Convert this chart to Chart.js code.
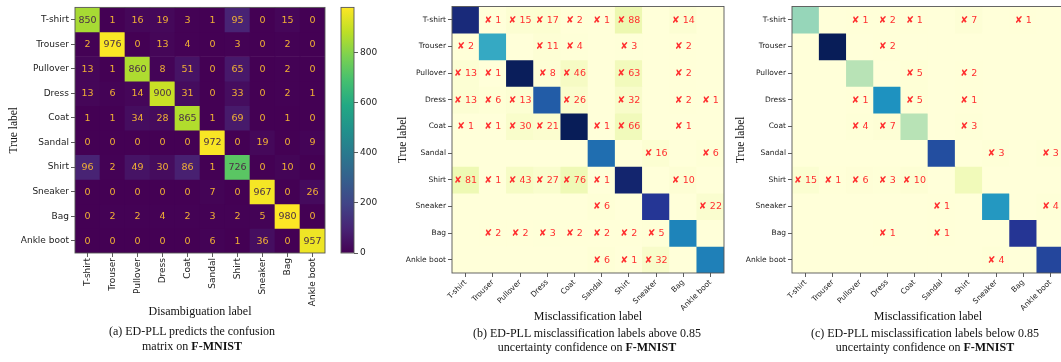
<!DOCTYPE html>
<html>
<head>
<meta charset="utf-8">
<script src="https://cdn.jsdelivr.net/npm/chart.js@4.4.1/dist/chart.umd.min.js"></script>
<style>
  html, body { margin: 0; padding: 0; background: #fff; overflow: hidden; }
  body { width: 1061px; height: 362px; position: relative; }
  canvas { position: absolute; top: 0; }
  .cap { position: absolute; font-family: "Liberation Serif", "Times New Roman", serif; font-size: 12px; color: #111; text-align: center; white-space: nowrap; }
</style>
</head>
<body>
<canvas id="cmA" width="330" height="362" style="left:0"></canvas>
<canvas id="cbar" width="60" height="362" style="left:330px"></canvas>
<canvas id="cmB" width="345" height="362" style="left:380px"></canvas>
<canvas id="cmC" width="345" height="362" style="left:720px"></canvas>
<div class="cap" style="left:42px;width:300px;top:324px;line-height:15px">(a) ED-PLL predicts the confusion<br>matrix on <b>F-MNIST</b></div>
<div class="cap" style="left:437px;width:300px;top:326px;line-height:14px">(b) ED-PLL misclassification labels above 0.85<br>uncertainty confidence on <b>F-MNIST</b></div>
<div class="cap" style="left:775px;width:300px;top:326px;line-height:14px">(c) ED-PLL misclassification labels below 0.85<br>uncertainty confidence on <b>F-MNIST</b></div>
<script>
const classNames = ['T-shirt', 'Trouser', 'Pullover', 'Dress', 'Coat', 'Sandal', 'Shirt', 'Sneaker', 'Bag', 'Ankle boot'];

// (a) confusion matrix, rows = true label, cols = disambiguation label
const confusionA = [
    [850, 1, 16, 19, 3, 1, 95, 0, 15, 0],
    [2, 976, 0, 13, 4, 0, 3, 0, 2, 0],
    [13, 1, 860, 8, 51, 0, 65, 0, 2, 0],
    [13, 6, 14, 900, 31, 0, 33, 0, 2, 1],
    [1, 1, 34, 28, 865, 1, 69, 0, 1, 0],
    [0, 0, 0, 0, 0, 972, 0, 19, 0, 9],
    [96, 2, 49, 30, 86, 1, 726, 0, 10, 0],
    [0, 0, 0, 0, 0, 7, 0, 967, 0, 26],
    [0, 2, 2, 4, 2, 3, 2, 5, 980, 0],
    [0, 0, 0, 0, 0, 6, 1, 36, 0, 957]
];

// (b) misclassifications above 0.85 (diagonal not printed, estimated from shade)
const misAbove = [
    [0, 1, 15, 17, 2, 1, 88, 0, 14, 0],
    [2, 0, 0, 11, 4, 0, 3, 0, 2, 0],
    [13, 1, 0, 8, 46, 0, 63, 0, 2, 0],
    [13, 6, 13, 0, 26, 0, 32, 0, 2, 1],
    [1, 1, 30, 21, 0, 1, 66, 0, 1, 0],
    [0, 0, 0, 0, 0, 0, 0, 16, 0, 6],
    [81, 1, 43, 27, 76, 1, 0, 0, 10, 0],
    [0, 0, 0, 0, 0, 6, 0, 0, 0, 22],
    [0, 2, 2, 3, 2, 2, 2, 5, 0, 0],
    [0, 0, 0, 0, 0, 6, 1, 32, 0, 0]
];
const diagAbove = [650, 380, 695, 530, 700, 497, 668, 609, 460, 467];

// (c) misclassifications below 0.85
const misBelow = [
    [0, 0, 1, 2, 1, 0, 7, 0, 1, 0],
    [0, 0, 0, 2, 0, 0, 0, 0, 0, 0],
    [0, 0, 0, 0, 5, 0, 2, 0, 0, 0],
    [0, 0, 1, 0, 5, 0, 1, 0, 0, 0],
    [0, 0, 4, 7, 0, 0, 3, 0, 0, 0],
    [0, 0, 0, 0, 0, 0, 0, 3, 0, 3],
    [15, 1, 6, 3, 10, 0, 0, 0, 0, 0],
    [0, 0, 0, 0, 0, 1, 0, 0, 0, 4],
    [0, 0, 0, 1, 0, 1, 0, 0, 0, 0],
    [0, 0, 0, 0, 0, 0, 0, 4, 0, 0]
];
const diagBelow = [200, 596, 165, 370, 165, 475, 58, 358, 520, 490];

const colorbarTicks = [0, 200, 400, 600, 800];

const VIRIDIS = ['#440154', '#482475', '#414487', '#355f8d', '#2a788e', '#21918c', '#22a884', '#44bf70', '#7ad151', '#bddf26', '#fde725'];
const YLGNBU = ['#ffffd9', '#edf8b1', '#c7e9b4', '#7fcdbb', '#41b6c4', '#1d91c0', '#225ea8', '#253494', '#081d58'];

function hexRgb(h) { return [1, 3, 5].map(i => parseInt(h.substr(i, 2), 16)); }
function cmap(stops, t) {
    t = Math.max(0, Math.min(1, t));
    const p = t * (stops.length - 1);
    const i = Math.min(Math.floor(p), stops.length - 2);
    const f = p - i;
    const a = hexRgb(stops[i]), b = hexRgb(stops[i + 1]);
    return 'rgb(' + a.map((v, k) => Math.round(v + (b[k] - v) * f)).join(',') + ')';
}

const withDiag = (mis, diag) => mis.map((row, i) => row.map((v, j) => i === j ? diag[i] : v));
const cellsAbove = withDiag(misAbove, diagAbove);
const cellsBelow = withDiag(misBelow, diagBelow);

const SANS = 'DejaVu Sans';
const SERIF = 'Liberation Serif';

const framePlugin = {
    id: 'frame',
    afterDraw(chart) {
        const { ctx, chartArea: a } = chart;
        ctx.save();
        ctx.strokeStyle = '#555';
        ctx.lineWidth = 0.9;
        ctx.strokeRect(a.left, a.top, a.right - a.left, a.bottom - a.top);
        ctx.restore();
    }
};

function cellTextPlugin(fmt) {
    return {
        id: 'cellText',
        afterDatasetsDraw(chart) {
            const ctx = chart.ctx;
            ctx.save();
            ctx.textAlign = 'center';
            ctx.textBaseline = 'middle';
            chart.data.datasets.forEach((ds, i) => {
                chart.getDatasetMeta(i).data.forEach((bar, j) => {
                    const t = fmt(i, j);
                    if (!t) return;
                    ctx.font = t.font;
                    ctx.fillStyle = t.color;
                    ctx.fillText(t.text, bar.x, (bar.y + bar.base) / 2 + 0.5);
                });
            });
            ctx.restore();
        }
    };
}

function heatmap(id, cfg) {
    const vmax = Math.max(...cfg.values.flat());
    const datasets = cfg.values.map((row, i) => ({
        data: row.map(() => [i - 0.5, i + 0.5]),
        backgroundColor: row.map(v => cmap(cfg.stops, v / vmax)),
        borderWidth: 0,
        grouped: false,
        barPercentage: 1,
        categoryPercentage: 1
    }));

    return new Chart(document.getElementById(id), {
        type: 'bar',
        data: { labels: classNames, datasets: datasets },
        options: {
            responsive: false,
            animation: false,
            events: [],
            layout: { padding: cfg.padding },
            plugins: { legend: { display: false }, tooltip: { enabled: false } },
            scales: {
                x: {
                    type: 'category',
                    grid: { offset: false, drawOnChartArea: false, tickLength: 4, tickColor: '#333', tickWidth: 0.8 },
                    border: { display: false },
                    ticks: { autoSkip: false, minRotation: cfg.rot, maxRotation: cfg.rot, padding: 1, color: '#222', font: { family: SANS, size: cfg.tickSize } },
                    title: { display: true, text: cfg.xTitle, color: '#111', padding: 0, font: { family: SERIF, size: 12 } },
                    afterFit: s => { s.height = cfg.xh; }
                },
                y: {
                    type: 'linear',
                    reverse: true,
                    min: -0.5,
                    max: 9.5,
                    afterBuildTicks: s => { s.ticks = classNames.map((_, i) => ({ value: i })); },
                    grid: { drawOnChartArea: false, tickLength: 4, tickColor: '#333', tickWidth: 0.8 },
                    border: { display: false },
                    ticks: { callback: v => classNames[v], padding: 2, color: '#222', font: { family: SANS, size: cfg.tickSize } },
                    title: { display: true, text: 'True label', color: '#111', padding: { top: cfg.yTitlePad }, font: { family: SERIF, size: 11.5 } },
                    afterFit: s => { s.width = cfg.yw; }
                }
            }
        },
        plugins: [framePlugin, cellTextPlugin(cfg.text)]
    });
}

const maxA = Math.max(...confusionA.flat());

heatmap('cmA', {
    values: confusionA,
    stops: VIRIDIS,
    padding: { left: 0, top: 3, right: 5, bottom: 43 },
    xh: 66, yw: 75, rot: 90, tickSize: 9, yTitlePad: 7,
    xTitle: 'Disambiguation label',
    text: (i, j) => {
        const v = confusionA[i][j];
        return { text: String(v), font: '9.5px "DejaVu Sans"', color: v > maxA / 2 ? '#4a2f45' : '#f2b134' };
    }
});

const misText = mis => (i, j) => {
    const v = mis[i][j];
    if (i === j || !v) return null;
    return { text: '\u2718 ' + v, font: '9.5px "DejaVu Sans"', color: '#ff3030' };
};

heatmap('cmB', {
    values: cellsAbove,
    stops: YLGNBU,
    padding: { left: 0, top: 1, right: 1, bottom: 38 },
    xh: 51, yw: 72, rot: 45, tickSize: 7.5, yTitlePad: 16,
    xTitle: 'Misclassification label',
    text: misText(misAbove)
});

heatmap('cmC', {
    values: cellsBelow,
    stops: YLGNBU,
    padding: { left: 0, top: 1, right: 1, bottom: 38 },
    xh: 51, yw: 72, rot: 45, tickSize: 7.5, yTitlePad: 14,
    xTitle: 'Misclassification label',
    text: misText(misBelow)
});

// colorbar for (a)
new Chart(document.getElementById('cbar'), {
    type: 'bar',
    data: {
        labels: [''],
        datasets: [{
            data: [[0, maxA]],
            backgroundColor: c => {
                const ca = c.chart.chartArea;
                if (!ca) return VIRIDIS[0];
                const g = c.chart.ctx.createLinearGradient(0, ca.bottom, 0, ca.top);
                VIRIDIS.forEach((col, k) => g.addColorStop(k / (VIRIDIS.length - 1), col));
                return g;
            },
            borderWidth: 0,
            barPercentage: 1,
            categoryPercentage: 1
        }]
    },
    options: {
        responsive: false,
        animation: false,
        events: [],
        layout: { padding: { left: 11, top: 3, right: 0, bottom: 109 } },
        plugins: { legend: { display: false }, tooltip: { enabled: false } },
        scales: {
            x: { display: false },
            y: {
                position: 'right',
                min: 0,
                max: maxA,
                afterBuildTicks: s => { s.ticks = colorbarTicks.map(v => ({ value: v })); },
                grid: { drawOnChartArea: false, tickLength: 4, tickColor: '#333', tickWidth: 0.8 },
                border: { display: false },
                ticks: { padding: 2, color: '#222', font: { family: SANS, size: 9 } },
                afterFit: s => { s.width = 36; }
            }
        }
    },
    plugins: [framePlugin]
});
</script>
</body>
</html>
